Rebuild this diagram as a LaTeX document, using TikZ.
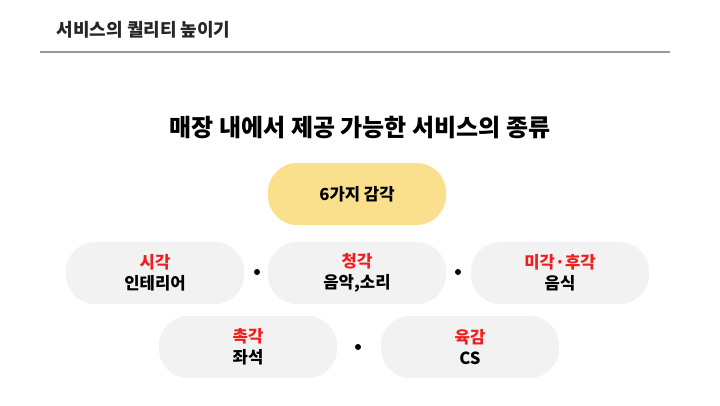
\documentclass[tikz,border=0pt]{standalone}
\usepackage{fontspec}
\setmainfont{Noto Sans CJK KR}
\definecolor{pillgray}{HTML}{F2F2F2}
\definecolor{pillyellow}{HTML}{FAE08C}
\definecolor{redt}{HTML}{F01E1E}
\tikzset{
 pill/.style={rounded corners=22pt, fill=pillgray, draw=none, minimum height=62*0.75pt, minimum width=178*0.75pt, align=center, font=\fontsize{12.5}{16}\selectfont\bfseries, text=black},
 dot/.style={circle, fill=black, inner sep=0pt, minimum size=4.5pt}
}
\begin{document}
\begin{tikzpicture}[x=0.75pt,y=-0.75pt]
\useasboundingbox (0,0) rectangle (720,405);
\fill[white] (0,0) rectangle (720,405);
\node[anchor=west, font=\fontsize{13.5}{16}\selectfont\bfseries, text=black!85] (title) at (52,30) {서비스의 퀄리티 높이기};
\draw[gray!80, line width=1pt] (40,52) -- (670,52);
\node[font=\fontsize{18}{22}\selectfont\bfseries] (head) at (360,128) {매장 내에서 제공 가능한 서비스의 종류};
\node[pill, fill=pillyellow] (six) at (357,194) {6가지 감각};
\node[pill] (a) at (155,273) {\textcolor{redt}{시각}\\인테리어};
\node[pill] (b) at (357,273) {\textcolor{redt}{청각}\\음악,소리};
\node[pill] (c) at (560,273) {\textcolor{redt}{미각·후각}\\음식};
\node[pill] (d) at (248,347) {\textcolor{redt}{촉각}\\좌석};
\node[pill] (e) at (470,347) {\textcolor{redt}{육감}\\CS};
\node[dot] (d1) at (257,272) {};
\node[dot] (d2) at (458,272) {};
\node[dot] (d3) at (358,347) {};
\end{tikzpicture}
\end{document}
